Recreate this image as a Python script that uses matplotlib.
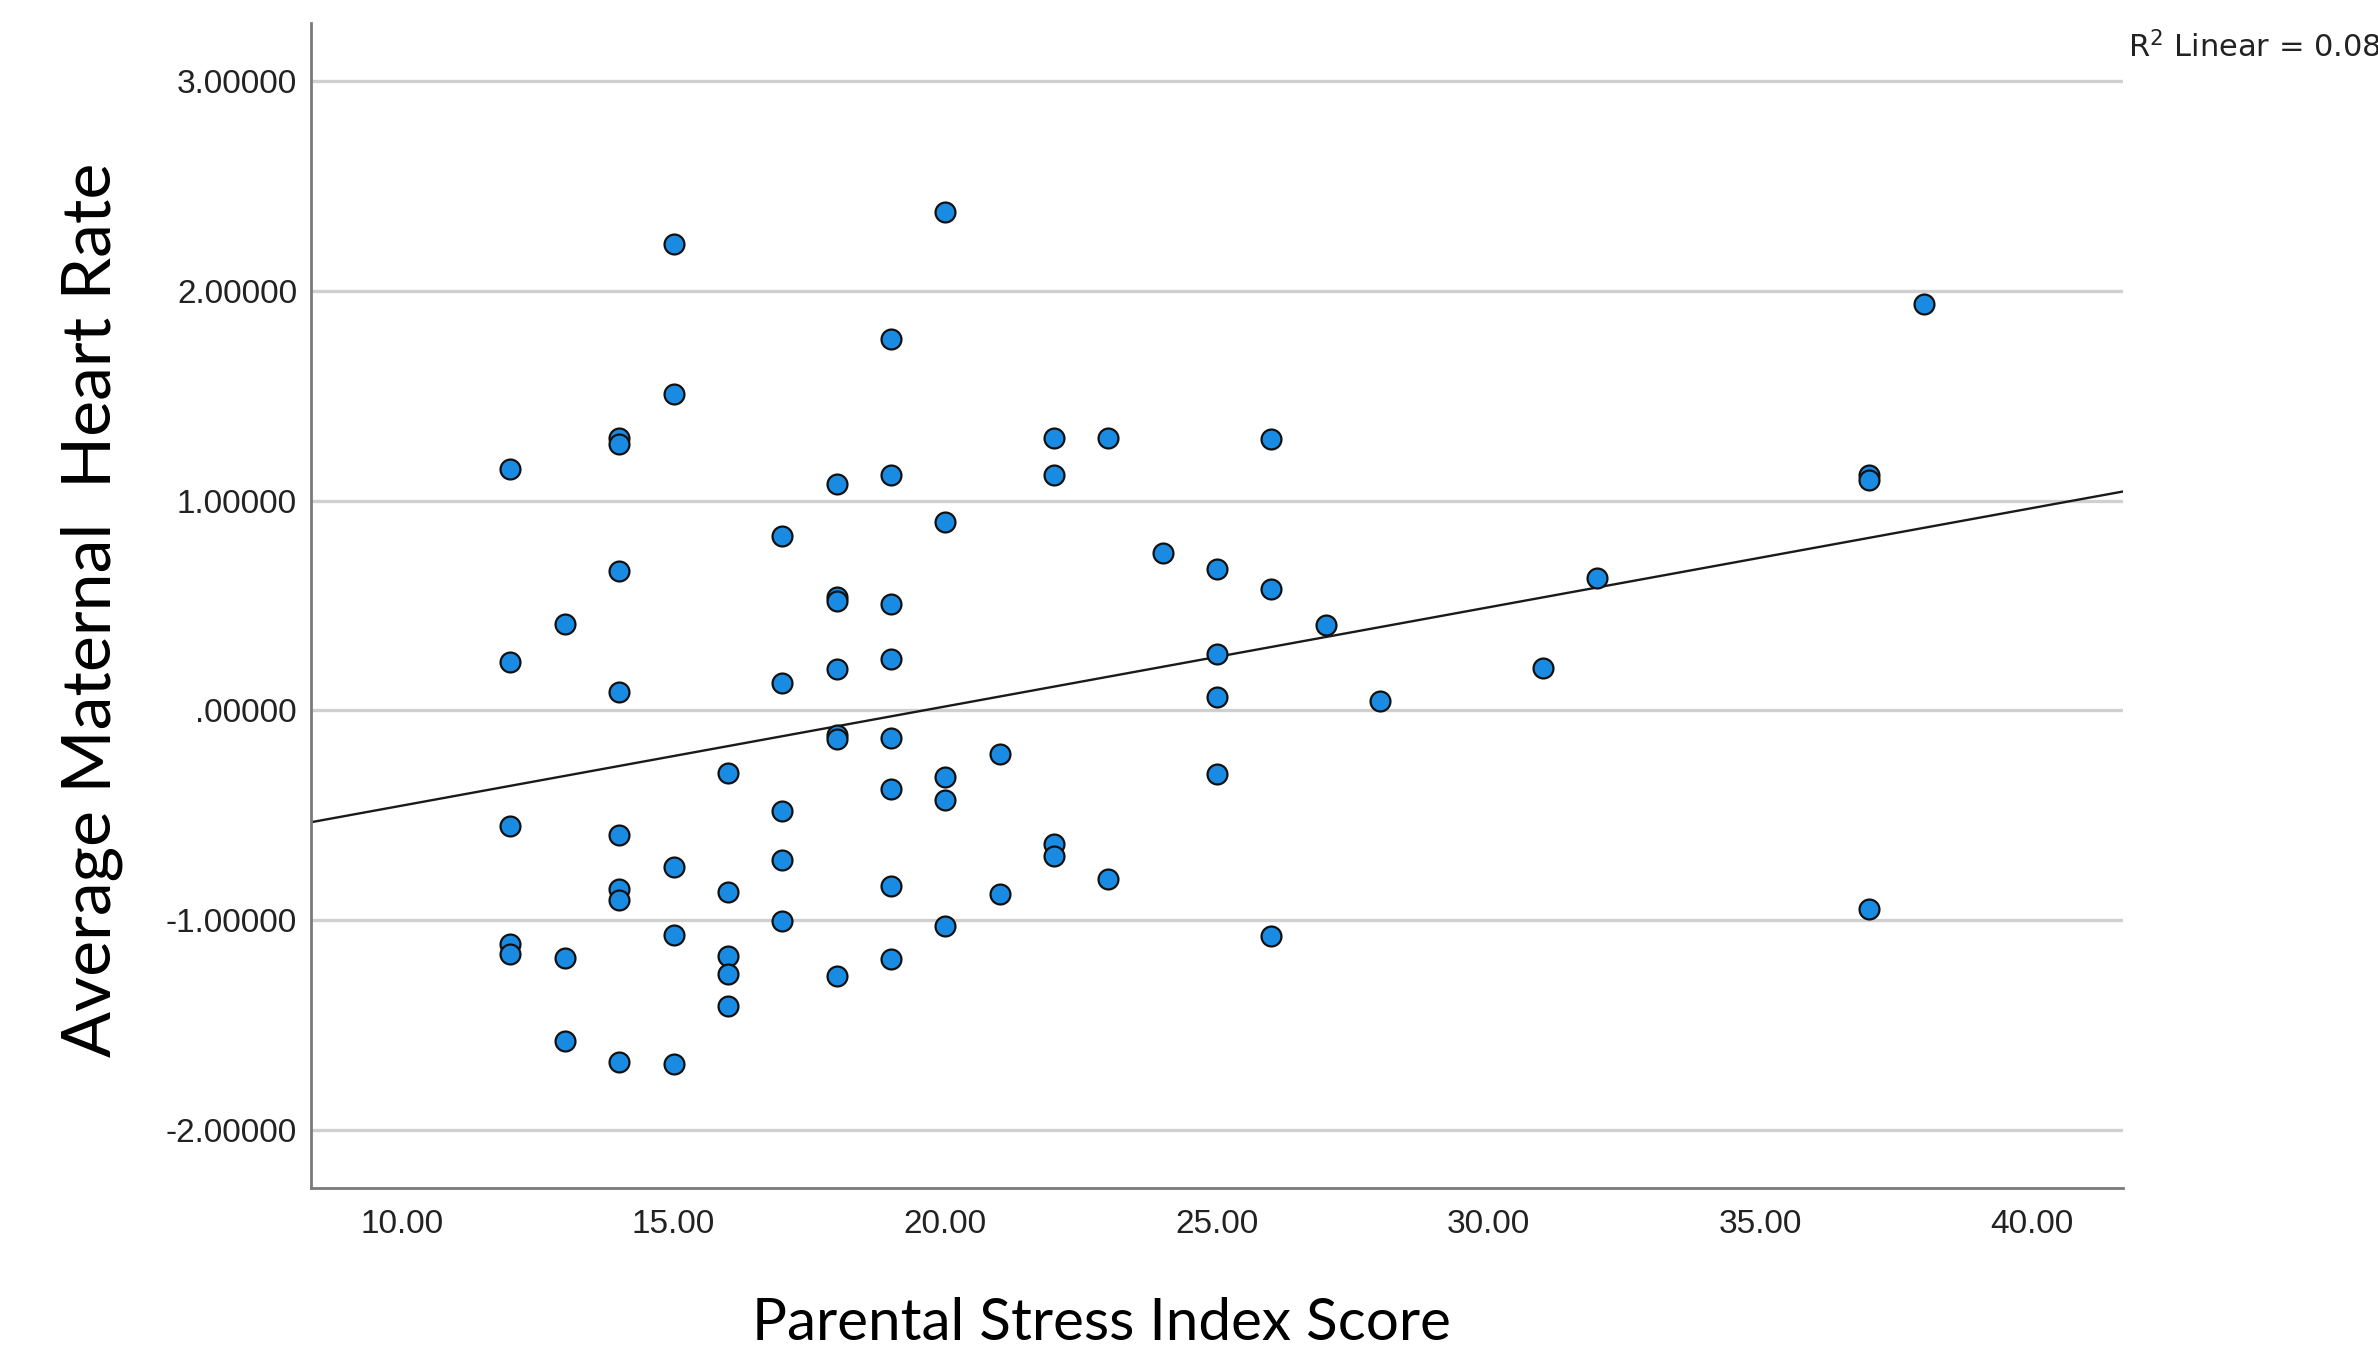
import numpy as np
import matplotlib
matplotlib.use("Agg")
import matplotlib.pyplot as plt

# Parental stress index score (x) and standardised average maternal heart rate (y)
stress_12 = [1.149, 0.231, -0.549, -1.113, -1.163]
stress_13 = [0.412, -1.178, -1.575]
stress_14 = [1.300, 1.270, 0.665, 0.087, -0.592, -0.853, -0.903, -1.676]
stress_15 = [2.225, 1.510, -0.744, -1.069, -1.683]
stress_16 = [-0.296, -0.867, -1.170, -1.257, -1.409]
stress_17 = [0.831, 0.130, -0.477, -0.715, -1.004]
stress_18 = [1.077, 0.542, 0.520, 0.195, -0.116, -0.137, -1.264]
stress_19 = [1.770, 1.120, 0.506, 0.246, -0.130, -0.376, -0.838, -1.185]
stress_20 = [2.377, 0.896, -0.318, -0.426, -1.026]
stress_21 = [-0.210, -0.874]
stress_22 = [1.300, 1.120, -0.636, -0.694]
stress_23 = [1.300, -0.802]
stress_24 = [0.751]
stress_25 = [0.672, 0.267, 0.065, -0.303]
stress_26 = [1.293, 0.578, -1.077]
stress_27 = [0.405]
stress_28 = [0.043]
stress_31 = [0.202]
stress_32 = [0.629]
stress_37 = [1.120, 1.098, -0.947]
stress_38 = [1.936]

groups = {
    12: stress_12, 13: stress_13, 14: stress_14, 15: stress_15, 16: stress_16,
    17: stress_17, 18: stress_18, 19: stress_19, 20: stress_20, 21: stress_21,
    22: stress_22, 23: stress_23, 24: stress_24, 25: stress_25, 26: stress_26,
    27: stress_27, 28: stress_28, 31: stress_31, 32: stress_32, 37: stress_37,
    38: stress_38,
}

x_ticks = [10, 15, 20, 25, 30, 35, 40]
x_tick_labels = ["10.00", "15.00", "20.00", "25.00", "30.00", "35.00", "40.00"]
y_ticks = [-2, -1, 0, 1, 2, 3]
y_tick_labels = ["-2.00000", "-1.00000", ".00000", "1.00000", "2.00000", "3.00000"]
r2_text = "R$^2$ Linear = 0.086"

x = np.concatenate([[k] * len(v) for k, v in groups.items()]).astype(float)
y = np.concatenate([v for v in groups.values()])

W, H = 2378, 1354
fig = plt.figure(figsize=(W / 100, H / 100), dpi=100)
ax = fig.add_axes([311 / W, 1 - 1188 / H, (2123 - 311) / W, (1188 - 23) / H])

xlim = (8.33, 41.67)
ylim = (-2.276, 3.276)
ax.set_xlim(*xlim)
ax.set_ylim(*ylim)

# horizontal reference lines at each y tick
for t in y_ticks:
    ax.axhline(t, color="#d0d0d0", lw=2.4, zorder=1)

# least-squares fit line across the whole x range
slope, intercept = np.polyfit(x, y, 1)
xs = np.array(xlim)
ax.plot(xs, intercept + slope * xs, color="#1a1a1a", lw=1.7, zorder=2)

ax.scatter(x, y, s=205, facecolor="#1a8be3", edgecolor="#111111",
           linewidths=1.6, zorder=3)

for side in ("top", "right"):
    ax.spines[side].set_visible(False)
for side in ("left", "bottom"):
    ax.spines[side].set_color("#7a7a7a")
    ax.spines[side].set_linewidth(2.0)

ax.set_xticks(x_ticks)
ax.set_xticklabels(x_tick_labels)
ax.set_yticks(y_ticks)
ax.set_yticklabels(y_tick_labels)
ax.tick_params(axis="both", length=0, labelsize=24, labelcolor="#222222")
ax.tick_params(axis="y", pad=10)
ax.tick_params(axis="x", pad=15)
for lab in ax.get_xticklabels() + ax.get_yticklabels():
    lab.set_family("Liberation Sans")

label_font = "Lato"
fig.text(1101 / W, 1 - 1324 / H, "Parental Stress Index Score",
         ha="center", va="center", fontsize=42, family=label_font, color="black")
fig.text(92 / W, 1 - 610 / H, "Average Maternal  Heart Rate",
         ha="center", va="center", rotation=90, fontsize=49,
         family=label_font, color="black")

fig.text(2128 / W, 1 - 57 / H, r2_text, ha="left", va="baseline",
         fontsize=22, family="DejaVu Sans", color="#222222")

fig.savefig("out.png", dpi=100)
